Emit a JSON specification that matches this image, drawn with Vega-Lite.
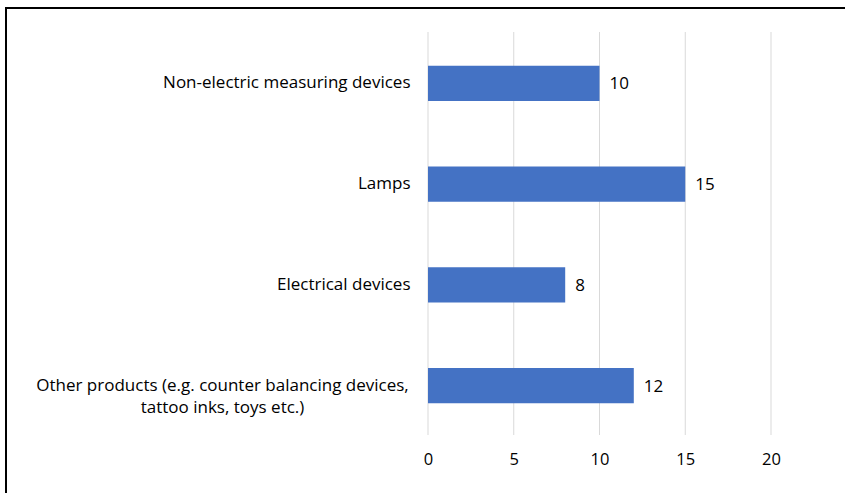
{
  "$schema": "https://vega.github.io/schema/vega-lite/v6.json",
  "width": 841,
  "height": 487,
  "autosize": {"type": "none"},
  "padding": {"left": 6, "top": 8, "right": 0, "bottom": 0},
  "background": "white",
  "config": {
    "view": {"stroke": "black", "strokeWidth": 2},
    "font": "Open Sans"
  },
  "datasets": {
    "bars": [
      {"category": "Non-electric measuring devices", "value": 10},
      {"category": "Lamps", "value": 15},
      {"category": "Electrical devices", "value": 8},
      {"category": "Other products (e.g. counter balancing devices, tattoo inks, toys etc.)", "value": 12}
    ],
    "grid": [
      {"tick": 0}, {"tick": 5}, {"tick": 10}, {"tick": 15}, {"tick": 20}
    ]
  },
  "layer": [
    {
      "data": {"name": "grid"},
      "mark": {"type": "rule", "color": "#D9D9D9", "strokeWidth": 1},
      "encoding": {
        "x": {
          "field": "tick", "type": "quantitative",
          "scale": {"domain": [0, 20], "range": [422, 765], "nice": false, "zero": false},
          "axis": {
            "orient": "bottom", "offset": -60, "grid": false, "domain": false, "ticks": false,
            "values": [0, 5, 10, 15, 20], "labelPadding": 16, "labelFontSize": 16.5, "labelFlush": false,
            "labelColor": "#000000", "labelFont": "Open Sans", "title": null
          }
        },
        "y": {"datum": 0, "type": "quantitative", "scale": {"domain": [0, 1], "range": [24, 427]}, "axis": null},
        "y2": {"datum": 1}
      }
    },
    {
      "data": {"name": "bars"},
      "mark": {"type": "bar", "color": "#4472C4"},
      "encoding": {
        "y": {
          "field": "category", "type": "nominal", "sort": null,
          "scale": {"range": [25, 428], "paddingInner": 0.65, "paddingOuter": 0.325},
          "axis": {
            "orient": "left", "offset": -422, "domain": false, "ticks": false, "grid": false,
            "labelPadding": {"condition": {"test": "indexof(datum.label, 'tattoo') >= 0", "value": 206}, "value": 18},
            "labelAlign": {"condition": {"test": "indexof(datum.label, 'tattoo') >= 0", "value": "center"}, "value": "right"},
            "labelFontSize": 17, "labelColor": "#000000", "labelFont": "Open Sans",
            "labelLimit": 500, "labelLineHeight": 22, "title": null,
            "labelExpr": "indexof(datum.label, 'tattoo') >= 0 ? ['Other products (e.g. counter balancing devices,', 'tattoo inks, toys etc.)'] : datum.label"
          }
        },
        "x": {"field": "value", "type": "quantitative"}
      }
    },
    {
      "data": {"name": "bars"},
      "mark": {"type": "text", "align": "left", "dx": 10, "dy": 1, "fontSize": 17, "color": "#000000", "font": "Open Sans"},
      "encoding": {
        "y": {
          "field": "category", "type": "nominal", "sort": null,
          "scale": {"range": [25, 428], "paddingInner": 0.65, "paddingOuter": 0.325},
          "axis": null
        },
        "x": {"field": "value", "type": "quantitative"},
        "text": {"field": "value", "type": "quantitative"}
      }
    }
  ],
  "resolve": {"scale": {"y": "independent"}}
}
